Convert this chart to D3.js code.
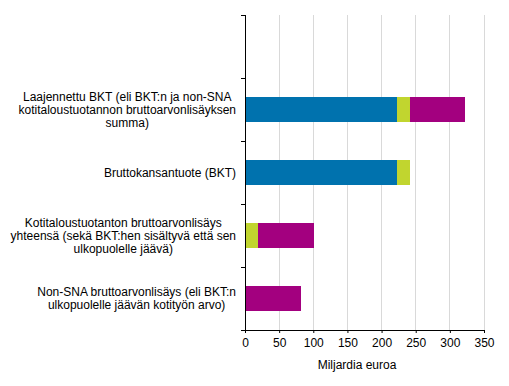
<!DOCTYPE html>
<html><head><meta charset="utf-8">
<script src="https://cdn.jsdelivr.net/npm/d3@7"></script>
<style>body{margin:0;background:#fff}svg{display:block;font-family:"Liberation Sans",Arial,sans-serif}</style>
</head><body><svg id="c" width="509" height="386"></svg>
<script>
const categories = [
  "",
  "Laajennettu BKT (eli BKT:n ja non-SNA|kotitaloustuotannon bruttoarvonlisäyksen|summa)",
  "Bruttokansantuote (BKT)",
  "Kotitaloustuotanton bruttoarvonlisäys|yhteensä (sekä BKT:hen sisältyvä että sen|ulkopuolelle jäävä)",
  "Non-SNA bruttoarvonlisäys (eli BKT:n|ulkopuolelle jäävän kotityön arvo)"
];
const seriesNames = ["BKT ilman kotitaloustuotantoa", "BKT:hen sisältyvä kotitaloustuotanto", "Non-SNA kotitaloustuotanto"];
const blueValues = [0, 222, 222, 0, 0];
const limeValues = [0, 19, 19, 19, 0];
const purpleValues = [0, 81, 0, 82, 82];
const xTicks = [0, 50, 100, 150, 200, 250, 300, 350];
const colors = ["#0072ae", "#c1d52f", "#a3007f"];

const svg = d3.select("#c");
const m = {left: 245, right: 484, top: 15, bottom: 330};
const x = d3.scaleLinear().domain([0, 350]).range([m.left, m.right]);
const y = d3.scaleBand().domain(d3.range(categories.length)).range([m.top, m.bottom]).paddingInner(0.59).paddingOuter(0.295);

// grid
svg.append("g").selectAll("line").data(xTicks.slice(1)).join("line")
  .attr("x1", d => x(d)).attr("x2", d => x(d))
  .attr("y1", m.top).attr("y2", m.bottom)
  .attr("stroke", "#d9d9d9").attr("stroke-width", 1).attr("shape-rendering", "crispEdges");

// stacked bars
const rows = categories.map((c, i) => ({i, v: [blueValues[i], limeValues[i], purpleValues[i]]}));
const stack = d3.stack().keys([0, 1, 2]).value((d, k) => d.v[k]);
const series = stack(rows);
svg.append("g").selectAll("g").data(series).join("g")
  .attr("fill", (d, k) => colors[k])
  .selectAll("rect").data(d => d).join("rect")
  .attr("x", d => x(d[0])).attr("width", d => x(d[1]) - x(d[0]))
  .attr("y", d => y(d.data.i)).attr("height", y.bandwidth())
  .attr("shape-rendering", "crispEdges");

// x axis
const xa = svg.append("g").attr("transform", `translate(0,${m.bottom})`)
  .call(d3.axisBottom(x).tickValues(xTicks).tickSize(3).tickSizeOuter(0));
xa.select(".domain").attr("stroke", "#000");
xa.selectAll("text").attr("font-size", 12).attr("fill", "#000").attr("font-family", "Liberation Sans, Arial, sans-serif").attr("dy", "0.95em");

// y axis line and ticks at band boundaries
const step = y.step();
const bounds = d3.range(categories.length + 1).map(k => m.top + k * (m.bottom - m.top) / categories.length);
svg.append("line").attr("x1", m.left + 0.5).attr("x2", m.left + 0.5).attr("y1", m.top).attr("y2", m.bottom + 0.5).attr("stroke", "#000");
svg.append("g").selectAll("line").data(bounds).join("line")
  .attr("x1", m.left - 4).attr("x2", m.left).attr("y1", d => Math.round(d) + 0.5).attr("y2", d => Math.round(d) + 0.5).attr("stroke", "#000");

// category labels
const lh = 13;
categories.forEach((c, i) => {
  if (!c) return;
  const lines = c.split("|");
  const cy = y(i) + y.bandwidth() / 2;
  const t = svg.append("text").attr("font-size", 12).attr("fill", "#000").attr("text-anchor", "middle");
  const tsp = lines.map((l, k) => t.append("tspan").text(l)
      .attr("y", cy + (k - (lines.length - 1) / 2) * lh).attr("dy", "0.35em"));
  const maxW = d3.max(tsp, s => s.node().getComputedTextLength());
  tsp.forEach(s => s.attr("x", 236 - maxW / 2));
});

// axis title
svg.append("text").attr("x", 357).attr("y", 369).attr("text-anchor", "middle").attr("font-size", 12).text("Miljardia euroa");
</script></body></html>
